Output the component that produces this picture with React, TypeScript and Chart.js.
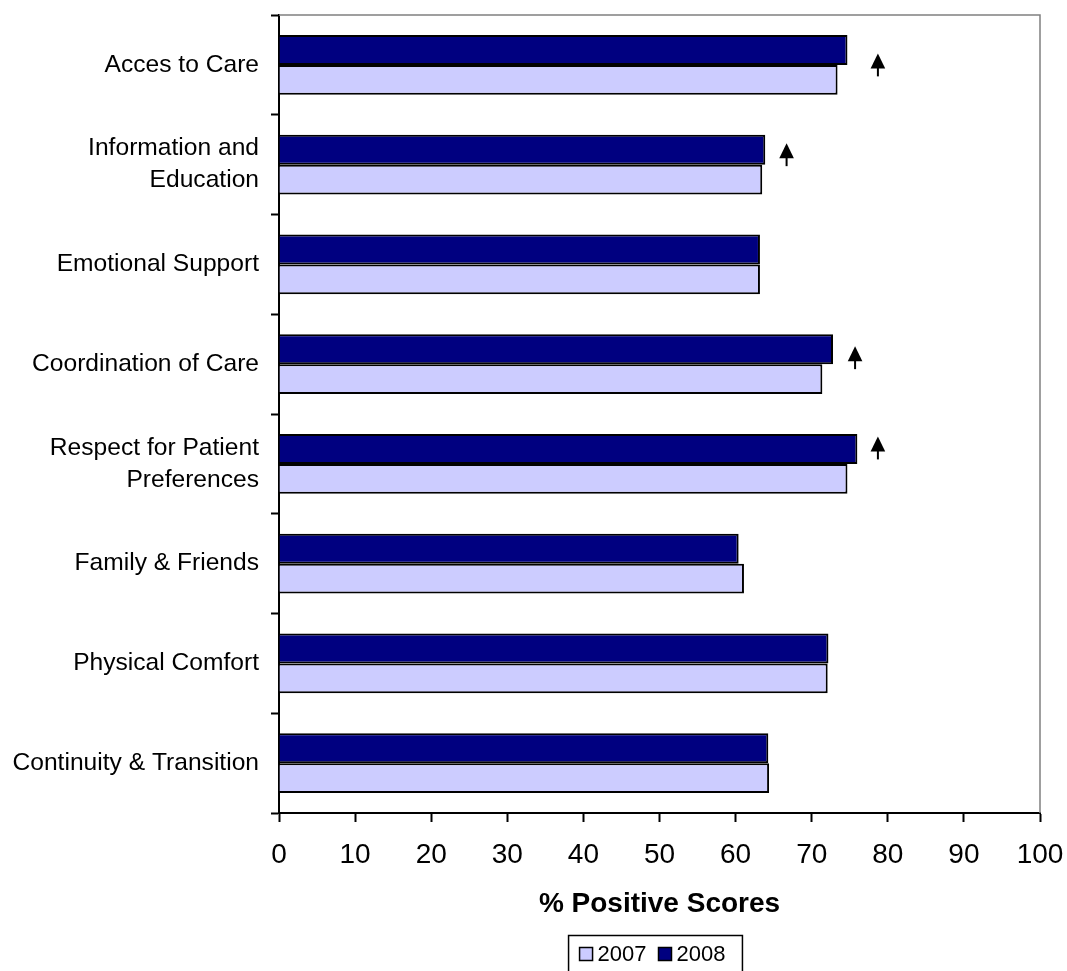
import React, { useEffect, useRef } from "react";
import { Chart, registerables } from "chart.js";

Chart.register(...registerables);

// Patient-experience dimensions, top to bottom
const categories: (string | string[])[] = [
  "Acces to Care",
  ["Information and", "Education"],
  "Emotional Support",
  "Coordination of Care",
  ["Respect for Patient", "Preferences"],
  "Family & Friends",
  "Physical Comfort",
  "Continuity & Transition",
];

// % positive scores per year
const scores2007 = [73.4, 63.5, 63.2, 71.4, 74.7, 61.1, 72.1, 64.4];
const scores2008 = [74.7, 63.9, 63.2, 72.8, 76.0, 60.4, 72.2, 64.3];

// Significant-improvement markers (x in %, y in category index units)
const arrowX = [78.7, 66.7, 75.7, 78.7];
const arrowY = [0.0, 0.9, 2.935, 3.84];

const xTicks = [0, 10, 20, 30, 40, 50, 60, 70, 80, 90, 100];

const FONT = "'Liberation Sans', Arial, sans-serif";
const COLOR_2007 = "#CCCCFF";
const COLOR_2008 = "#000080";

// Gray frame on the top and right sides of the plot area
const framePlugin = {
  id: "plotFrame",
  beforeDatasetsDraw(chart: any) {
    const { ctx, chartArea: a } = chart;
    ctx.save();
    ctx.strokeStyle = "#808080";
    ctx.lineWidth = 1.5;
    ctx.beginPath();
    ctx.moveTo(a.left, a.top);
    ctx.lineTo(a.right, a.top);
    ctx.lineTo(a.right, a.bottom);
    ctx.stroke();
    ctx.restore();
  },
};

// Upward arrows marking significant increases
const arrowPlugin = {
  id: "upArrows",
  afterDatasetsDraw(chart: any) {
    const { ctx, scales } = chart;
    ctx.save();
    ctx.fillStyle = "#000";
    ctx.strokeStyle = "#000";
    for (let i = 0; i < arrowX.length; i++) {
      const cx = scales.x.getPixelForValue(arrowX[i]);
      const cy = scales.y.getPixelForValue(arrowY[i]);
      const top = cy - 11.5;
      ctx.beginPath();
      ctx.moveTo(cx, top);
      ctx.lineTo(cx + 7.3, top + 15);
      ctx.lineTo(cx - 7.3, top + 15);
      ctx.closePath();
      ctx.fill();
      ctx.lineWidth = 2;
      ctx.beginPath();
      ctx.moveTo(cx, top + 14);
      ctx.lineTo(cx, top + 23);
      ctx.stroke();
    }
    ctx.restore();
  },
};

// Framed legend below the axis title, 2007 first
const legendPlugin = {
  id: "boxedLegend",
  afterDraw(chart: any) {
    const { ctx, chartArea: a } = chart;
    const items = [...chart.data.datasets].reverse();
    ctx.save();
    ctx.font = `22px ${FONT}`;
    const sw = 13;
    const gap = 5;
    const between = 12;
    const widths = items.map((d: any) => ctx.measureText(d.label).width);
    let content = 0;
    widths.forEach((w: number, i: number) => {
      content += sw + gap + w + (i < widths.length - 1 ? between : 0);
    });
    const padL = 11;
    const padR = 17;
    const fw = content + padL + padR;
    const fx = (a.left + a.right) / 2 - fw / 2 - 4;
    const fy = chart.height - 35.5;
    ctx.strokeStyle = "#000";
    ctx.lineWidth = 1.5;
    ctx.strokeRect(fx, fy, fw, 60);
    const cy = fy + 18.5;
    let x = fx + padL;
    items.forEach((d: any, i: number) => {
      ctx.fillStyle = d.backgroundColor;
      ctx.fillRect(x, cy - sw / 2, sw, sw);
      ctx.lineWidth = 1.5;
      ctx.strokeRect(x, cy - sw / 2, sw, sw);
      x += sw + gap;
      ctx.fillStyle = "#000";
      ctx.textBaseline = "middle";
      ctx.textAlign = "left";
      ctx.fillText(d.label, x, cy + 1);
      x += widths[i] + between;
    });
    ctx.restore();
  },
};

export default function App() {
  const canvasRef = useRef<HTMLCanvasElement | null>(null);

  useEffect(() => {
    const canvas = canvasRef.current;
    if (!canvas) return;
    const chart = new Chart(canvas, {
      type: "bar",
      data: {
        labels: categories as any,
        datasets: [
          {
            label: "2008",
            data: scores2008,
            backgroundColor: COLOR_2008,
            borderColor: "#000",
            borderWidth: 2,
          },
          {
            label: "2007",
            data: scores2007,
            backgroundColor: COLOR_2007,
            borderColor: "#000",
            borderWidth: 2,
          },
        ],
      },
      options: {
        indexAxis: "y",
        responsive: false,
        animation: false,
        devicePixelRatio: 1,
        datasets: { bar: { categoryPercentage: 0.6, barPercentage: 1 } },
        layout: { padding: { top: 15, right: 27, bottom: 0, left: 0 } },
        plugins: {
          legend: { display: false },
          tooltip: { enabled: false },
        },
        scales: {
          x: {
            min: 0,
            max: 100,
            afterBuildTicks: (s: any) => {
              s.ticks = xTicks.map((v) => ({ value: v }));
            },
            afterFit: (s: any) => {
              s.height = 158;
              s.paddingLeft = 0;
              s.paddingRight = 0;
            },
            border: { display: true, color: "#000", width: 2 },
            grid: {
              drawOnChartArea: false,
              drawTicks: true,
              tickLength: 9,
              tickColor: "#000",
              tickWidth: 2,
            },
            ticks: {
              color: "#000",
              padding: 16,
              maxRotation: 0,
              autoSkip: false,
              font: { family: FONT, size: 28 },
            },
            title: {
              display: true,
              text: "% Positive Scores",
              color: "#000",
              font: { family: FONT, size: 28, weight: "bold" },
              padding: { top: 0, bottom: 50 },
            },
          },
          y: {
            afterFit: (s: any) => {
              s.width = 279;
              s.paddingTop = 0;
              s.paddingBottom = 0;
            },
            border: { display: true, color: "#000", width: 2 },
            grid: {
              offset: true,
              drawOnChartArea: false,
              drawTicks: true,
              tickLength: 8,
              tickColor: "#000",
              tickWidth: 2,
            },
            ticks: {
              color: "#000",
              padding: 12,
              autoSkip: false,
              font: { family: FONT, size: 24.6, lineHeight: 1.3 },
            },
          },
        },
      },
      plugins: [framePlugin, arrowPlugin, legendPlugin],
    } as any);
    return () => chart.destroy();
  }, []);

  return (
    <div style={{ position: "fixed", left: 0, top: 0, width: 1067, height: 971, background: "#fff" }}>
      <canvas ref={canvasRef} width={1067} height={971} style={{ display: "block" }} />
    </div>
  );
}
